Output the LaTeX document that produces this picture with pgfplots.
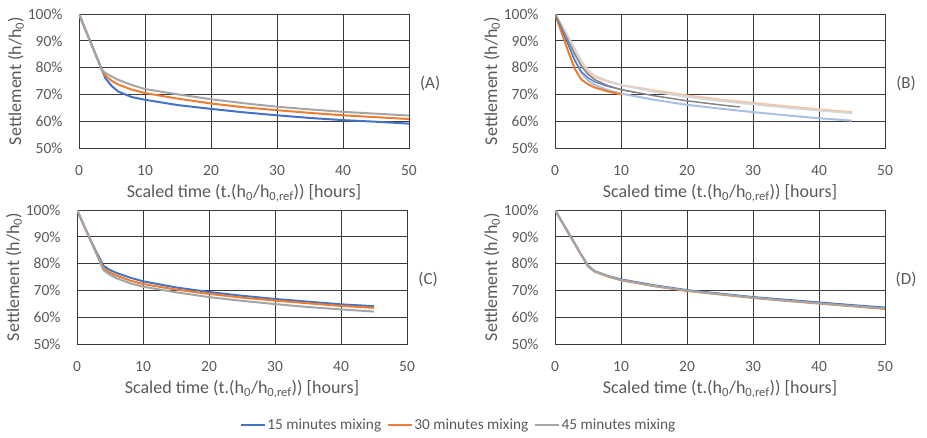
\documentclass[border=0pt]{standalone}
\usepackage{fontspec}
\setmainfont{Carlito}
\usepackage{pgfplots}
\pgfplotsset{compat=1.18}
\definecolor{sblue}{HTML}{4472C4}
\definecolor{sorange}{HTML}{ED7D31}
\definecolor{sgray}{HTML}{A5A5A5}
\definecolor{lblue}{HTML}{A9BFE6}
\definecolor{lorange}{HTML}{F7C4A2}
\definecolor{lgray}{HTML}{D6D6D6}
\definecolor{dgray}{HTML}{858585}
\definecolor{gridc}{HTML}{3A3A3A}
\definecolor{txt}{HTML}{595959}

\tikzset{tag/.style={font=\fontsize{17}{19}\selectfont, text=txt}}
\pgfplotsset{
  panel/.style={
    scale only axis, width=330pt, height=134pt,
    anchor=south west, clip mode=individual,
    xmin=0, xmax=50, ymin=50, ymax=100,
    xtick={0,10,...,50}, ytick={50,60,...,100},
    yticklabels={50\%,60\%,70\%,80\%,90\%,100\%},
    grid=major, grid style={gridc, line width=0.9pt},
    axis line style={gridc, line width=0.9pt},
    major tick length=0pt,
    /pgf/number format/assume math mode=true,
    tick label style={font=\fontsize{15.5}{17}\selectfont, text=txt},
    yticklabel style={xshift=-13pt},
    xticklabel style={yshift=-14pt},
    label style={font=\fontsize{18}{20}\selectfont, text=txt},
    xlabel style={at={(axis description cs:0.5,-0.336)}, anchor=center},
    ylabel style={at={(axis description cs:-0.191,0.5)}, anchor=center},
    xlabel={Scaled time (t.(h\textsubscript{0}/h\textsubscript{0,ref})) [hours]},
    ylabel={Settlement (h/h\textsubscript{0})},
  },
  ser/.style={line width=2pt, line join=round},
}

\begin{document}
\begin{tikzpicture}
\path[use as bounding box] (0pt,0pt) rectangle (927pt,437pt);

% (A)
\begin{axis}[panel, at={(79pt,289pt)}]
\addplot[ser, sblue] coordinates {(0,100) (1,94) (2,88) (3,82) (3.5,79) (4,76) (5,73) (6,71) (8,69) (10,68) (15,66) (20,64.6) (25,63.3) (30,62.2) (35,61.2) (40,60.4) (45,59.8) (50,59.1)};
\addplot[ser, sorange] coordinates {(0,100) (1,94) (2,88) (3,82) (3.5,79) (4,77) (5,75) (6,73.6) (8,71.8) (10,70.5) (15,68.4) (20,66.6) (25,65.2) (30,64.1) (35,63.1) (40,62.2) (45,61.5) (50,60.8)};
\addplot[ser, sgray] coordinates {(0,100) (1,94) (2,88) (3,82) (3.5,79) (4,78) (5,76.6) (6,75.4) (8,73.5) (10,72) (15,70) (20,68.2) (25,66.7) (30,65.4) (35,64.4) (40,63.5) (45,62.8) (50,62.1)};
\node[tag] at (rel axis cs:1.064,0.485) {(A)};
\end{axis}

% (B)
\begin{axis}[panel, at={(555pt,289pt)}]
\addplot[ser, lorange] coordinates {(0,100) (1,95.5) (2,90.5) (3,85.5) (4,81) (5,78) (6,76.5) (8,74.8) (10,73.5) (15,71.5) (20,69.6) (25,68.1) (30,66.8) (35,65.6) (40,64.4) (45,63.4)};
\addplot[ser, lgray] coordinates {(0,100) (1,96) (2,91.5) (3,87) (4,82.5) (5,79) (6,77) (8,75) (10,73.5) (15,71) (20,69.1) (25,67.6) (30,66.3) (35,65.1) (40,64) (45,63)};
\addplot[ser, lblue] coordinates {(0,100) (1,94.5) (2,89) (3,83) (4,78) (5,75.2) (6,73.6) (8,71.6) (10,70.3) (15,68) (20,66.1) (25,64.7) (30,63.4) (35,62.2) (40,61.1) (45,60.2)};
\addplot[ser, sorange] coordinates {(0,100) (1,93) (2,86) (3,79.5) (4,75.5) (5,73.8) (6,72.6) (8,71.1) (10,70)};
\addplot[line width=1.2pt, sblue] coordinates {(0,100) (1,94.5) (2,88.5) (3,82.5) (4,78.5) (5,76.2) (6,74.7) (8,73) (10,71.8) (12,70.8)};
\addplot[line width=1.5pt, dgray] coordinates {(0,100) (1,95) (2,90) (3,85) (4,80.5) (5,77.5) (6,75.5) (8,73.3) (10,71.8) (15,69.5) (20,67.6) (25,66.1) (28,65.3)};
\node[tag] at (rel axis cs:1.064,0.485) {(B)};
\end{axis}

% (C)
\begin{axis}[panel, at={(77pt,93pt)},
  legend style={at={(1.157,-0.604)}, anchor=center, draw=none, fill=none,
    legend columns=3, font=\fontsize{15.3}{17}\selectfont, text=txt,
    /tikz/every even column/.append style={column sep=4pt}},
  legend cell align=left,
  legend image code/.code={\draw[#1, line width=1.2pt] (0pt,0pt) -- (24pt,0pt);},
]
\addplot[ser, sblue] coordinates {(0,100) (1,94.5) (2,89) (3,84) (4,79.2) (5,77.6) (6,76.5) (8,74.8) (10,73.4) (15,71.1) (20,69.4) (25,68) (30,66.8) (35,65.8) (40,64.8) (45,64.1)};
\addplot[ser, sorange] coordinates {(0,100) (1,94.5) (2,89) (3,83.5) (4,78.3) (5,76.6) (6,75.5) (8,73.7) (10,72.4) (15,70.3) (20,68.7) (25,67.3) (30,66.2) (35,65.2) (40,64.2) (45,63.5)};
\addplot[ser, sgray] coordinates {(0,100) (1,94.5) (2,89) (3,83.3) (4,77.6) (5,75.8) (6,74.5) (8,72.7) (10,71.4) (15,69.3) (20,67.5) (25,66.1) (30,64.9) (35,63.8) (40,62.9) (45,62.1)};
\legend{15 minutes mixing, 30 minutes mixing, 45 minutes mixing}
\node[tag] at (rel axis cs:1.064,0.485) {(C)};
\end{axis}

% (D)
\begin{axis}[panel, at={(555pt,93pt)}]
\addplot[ser, sblue] coordinates {(0,100) (1,95.8) (2,91.6) (3,87.4) (4,83.2) (5,79.2) (6,77.2) (8,75.4) (10,74.1) (15,71.9) (20,70.1) (25,68.8) (30,67.5) (35,66.5) (40,65.5) (45,64.5) (50,63.6)};
\addplot[ser, sorange] coordinates {(0,100) (1,95.8) (2,91.6) (3,87.4) (4,83.2) (5,79) (6,77) (8,75.2) (10,73.8) (15,71.6) (20,69.8) (25,68.5) (30,67.2) (35,66.1) (40,65.1) (45,64.1) (50,63.1)};
\addplot[ser, sgray] coordinates {(0,100) (1,95.8) (2,91.6) (3,87.4) (4,83.2) (5,79.1) (6,77.1) (8,75.3) (10,73.9) (15,71.7) (20,69.9) (25,68.6) (30,67.3) (35,66.2) (40,65.2) (45,64.2) (50,63.3)};
\node[tag] at (rel axis cs:1.064,0.485) {(D)};
\end{axis}
\end{tikzpicture}
\end{document}
